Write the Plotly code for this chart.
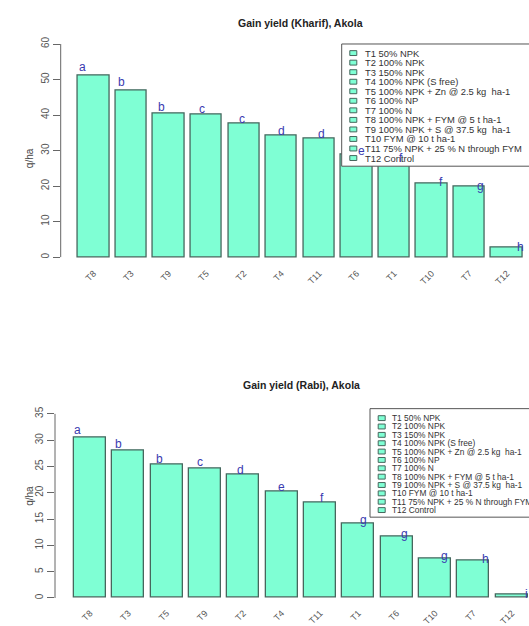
import plotly.graph_objects as go

W, H = 529, 626

# ---------------- data ----------------
kharif_trt = ["T8", "T3", "T9", "T5", "T2", "T4", "T11", "T6", "T1", "T10", "T7", "T12"]
kharif_yield = [51.0, 47.0, 40.4, 40.1, 37.5, 34.2, 33.5, 29.0, 27.4, 20.8, 19.8, 2.8]
kharif_letters = ["a", "b", "b", "c", "c", "d", "d", "e", "f", "f", "g", "h"]
kharif_ticks = [0, 10, 20, 30, 40, 50, 60]

rabi_trt = ["T8", "T3", "T5", "T9", "T2", "T4", "T11", "T1", "T6", "T10", "T7", "T12"]
rabi_yield = [30.5, 28.0, 25.3, 24.7, 23.4, 20.3, 18.2, 14.2, 11.65, 7.6, 7.2, 0.6]
rabi_letters = ["a", "b", "b", "c", "d", "e", "f", "g", "g", "g", "h", "i"]
rabi_ticks = [0, 5, 10, 15, 20, 25, 30, 35]

legend_labels = [
    "T1 50% NPK",
    "T2 100% NPK",
    "T3 150% NPK",
    "T4 100% NPK (S free)",
    "T5 100% NPK + Zn @ 2.5 kg  ha-1",
    "T6 100% NP",
    "T7 100% N",
    "T8 100% NPK + FYM @ 5 t ha-1",
    "T9 100% NPK + S @ 37.5 kg  ha-1",
    "T10 FYM @ 10 t ha-1",
    "T11 75% NPK + 25 % N through FYM",
    "T12 Control",
]

# ---------------- style ----------------
FONT = "Liberation Sans, Arial, sans-serif"
BAR_FILL = "#7FFFD4"
BAR_LINE = "#46675d"
LETTER_COL = "#3a3ab0"
AXIS_COL = "#666666"
TXT_COL = "#555555"


def px(x):
    return x / W


def py(y):
    return 1 - y / H


fig = go.Figure()

fig.add_trace(go.Bar(
    x=kharif_trt, y=kharif_yield, width=0.833,
    marker=dict(color=BAR_FILL, line=dict(color=BAR_LINE, width=1.3)),
    xaxis="x", yaxis="y", showlegend=False, hoverinfo="x+y",
))
fig.add_trace(go.Bar(
    x=rabi_trt, y=rabi_yield, width=0.833,
    marker=dict(color=BAR_FILL, line=dict(color=BAR_LINE, width=1.3)),
    xaxis="x2", yaxis="y2", showlegend=False, hoverinfo="x+y",
))

xcommon = dict(type="category", showgrid=False, zeroline=False, showline=False,
               ticks="", tickangle=-45, tickfont=dict(size=9, color=TXT_COL))
ycommon = dict(showgrid=False, zeroline=False, showline=False, ticks="outside",
               ticklen=7, tickcolor=AXIS_COL, tickwidth=1, tickangle=-90,
               tickfont=dict(size=10, color=TXT_COL))

fig.update_layout(
    width=W, height=H,
    margin=dict(l=0, r=0, t=0, b=0),
    paper_bgcolor="white", plot_bgcolor="white",
    font=dict(family=FONT),
    bargap=0,
    xaxis=dict(domain=[px(60.7), 1], range=[-0.876, 11.59], anchor="y", **xcommon),
    yaxis=dict(domain=[py(271.7), py(36.3)], range=[-2.4, 62.4], anchor="x",
               tickvals=kharif_ticks, **ycommon),
    xaxis2=dict(domain=[px(55), 1], range=[-0.913, 11.45], anchor="y2", **xcommon),
    yaxis2=dict(domain=[py(619.2), py(415.8)], range=[-1.4, 36.4], anchor="x2",
                tickvals=rabi_ticks, **ycommon),
)

shapes = []
annotations = []

# y axis lines (span only from first to last tick, like R)
for xr, yr, ticks in (("x domain", "y", kharif_ticks), ("x2 domain", "y2", rabi_ticks)):
    shapes.append(dict(type="line", xref=xr, yref=yr, x0=0, x1=0,
                       y0=ticks[0], y1=ticks[-1], line=dict(color=AXIS_COL, width=1)))

# titles and y-axis titles
annotations.append(dict(text="<b>Gain yield (Kharif), Akola</b>", x=px(300), y=py(15.5),
                        xref="paper", yref="paper", showarrow=False,
                        font=dict(size=10.5, color="#222")))
annotations.append(dict(text="<b>Gain yield (Rabi), Akola</b>", x=px(301.5), y=py(394),
                        xref="paper", yref="paper", showarrow=False,
                        font=dict(size=10.5, color="#222")))
for yy in (150, 520):
    annotations.append(dict(text="q/ha", x=px(22), y=py(yy), xref="paper", yref="paper",
                            showarrow=False, textangle=-90, font=dict(size=10, color="#444")))


# legend boxes (drawn manually, R-style compact legend)
def add_legend(x0, y0, y1, key_x, text_x, first_y, pitch, fsize):
    shapes.append(dict(type="rect", xref="paper", yref="paper",
                       x0=px(x0), x1=px(545), y0=py(y1), y1=py(y0),
                       line=dict(color="#555", width=1), fillcolor="white", layer="above"))
    for i, lab in enumerate(legend_labels):
        yc = first_y + pitch * i
        shapes.append(dict(type="rect", xref="paper", yref="paper",
                           x0=px(key_x - 3.5), x1=px(key_x + 3.5),
                           y0=py(yc + 2.5), y1=py(yc - 2.5),
                           line=dict(color=BAR_LINE, width=1), fillcolor=BAR_FILL, layer="above"))
        annotations.append(dict(text=lab, x=px(text_x), y=py(yc), xref="paper", yref="paper",
                                xanchor="left", yanchor="middle", showarrow=False,
                                borderpad=0,
                                font=dict(size=fsize, color="#333")))


add_legend(341.7, 45, 170, 353.3, 364, 54.3, 9.76, 9.4)
add_legend(370, 418, 529, 381.7, 390.5, 427.7, 8.55, 8.4)

# significance letters
for i, (v, l) in enumerate(zip(kharif_yield, kharif_letters)):
    annotations.append(dict(text=l, x=-0.309 + 1.062 * i, y=v, xref="x", yref="y",
                            yanchor="middle", yshift=8.5 - 0.8 * i, showarrow=False,
                            font=dict(size=12, color=LETTER_COL)))
for i, (v, l) in enumerate(zip(rabi_yield, rabi_letters)):
    annotations.append(dict(text=l, x=-0.321 + 1.064 * i, y=v, xref="x2", yref="y2",
                            yanchor="middle", yshift=7.5 - 0.6 * i, showarrow=False,
                            font=dict(size=12, color=LETTER_COL)))

fig.update_layout(shapes=shapes, annotations=annotations)

fig.write_html("out.html", config={"displayModeBar": False},
               post_script="document.body.style.margin='0px';")
